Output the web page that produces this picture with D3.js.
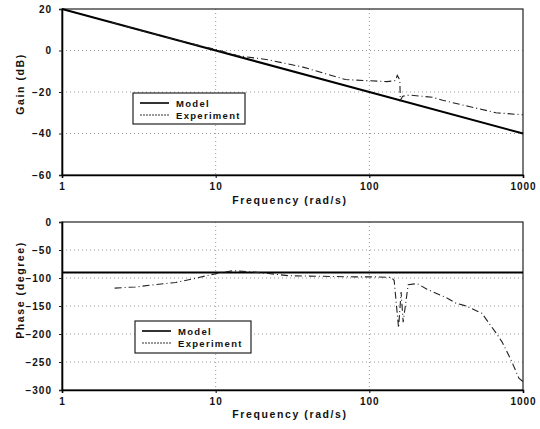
<!DOCTYPE html>
<html>
<head>
<meta charset="utf-8">
<script src="https://cdn.jsdelivr.net/npm/d3@7"></script>
<style>
  body { margin: 0; background: #fff; }
  text { font-family: "Liberation Sans", Arial, sans-serif; font-weight: bold; fill: #111; }
</style>
</head>
<body>
<svg id="chart" width="540" height="429"></svg>
<script>
// model (straight lines on log axis)
const modelFreq = [1, 10, 100, 1000];
const modelGain = [20, 0, -20, -40];
const modelPhase = [-90, -90, -90, -90];

// measured gain
const expGainFreq = [2.1, 3, 5, 8, 10, 14, 22, 37, 70, 130, 148, 152, 156, 158, 159, 165, 182, 257, 300, 446, 667, 1000];
const expGain = [13.6, 10.3, 6, 2.2, 0.5, -2.5, -4.5, -8, -14, -15, -14.5, -12, -13.5, -15, -24, -22, -21.5, -22.5, -24, -27, -30, -31];

// measured phase
const expPhaseFreq = [2.2, 3, 4, 5.5, 7, 9, 11, 13, 17, 22, 30, 50, 80, 110, 139, 145, 155, 161, 166, 179, 205, 237, 322, 367, 426, 540, 667, 730, 835, 940, 1000];
const expPhase = [-118, -116, -112, -108, -102, -95, -90, -87, -89, -92, -96, -97, -98, -98, -99, -104, -189, -125, -179, -112, -110, -120, -136, -145, -150, -163, -198, -214, -246, -279, -285];

const freqTicks = [1, 10, 100, 1000];
const gainTicks = [20, 0, -20, -40, -60];
const phaseTicks = [0, -50, -100, -150, -200, -250, -300];

const svg = d3.select("#chart");
const x = d3.scaleLog().domain([1, 1000]).range([62, 523]);

function panel(top, bottom, yDomain, yTicks, yTitle, titleY, fy, yVals, legendPos, xTitleY) {
  const y = d3.scaleLinear().domain(yDomain).range([bottom, top]);
  const g = svg.append("g");

  // grid
  g.selectAll(".hg").data(yTicks.slice(1, -1)).enter().append("line")
    .attr("x1", x(1)).attr("x2", x(1000))
    .attr("y1", d => y(d)).attr("y2", d => y(d))
    .attr("stroke", "#999").attr("stroke-width", 1).attr("stroke-dasharray", "1,3");
  g.selectAll(".vg").data([10, 100]).enter().append("line")
    .attr("x1", d => x(d)).attr("x2", d => x(d))
    .attr("y1", top).attr("y2", bottom)
    .attr("stroke", "#999").attr("stroke-width", 1).attr("stroke-dasharray", "1,3");

  // frame
  g.append("rect").attr("x", x(1)).attr("y", top)
    .attr("width", x(1000) - x(1)).attr("height", bottom - top)
    .attr("fill", "none").attr("stroke", "#222").attr("stroke-width", 1.2);

  const ya = d3.axisLeft(y).tickValues(yTicks).tickSize(3).tickFormat(d3.format("d"));
  g.append("g").attr("transform", `translate(${x(1)},0)`).call(ya)
    .call(a => a.select(".domain").attr("stroke-width", 1.6))
    .call(a => a.selectAll("text").attr("font-size", 10).attr("letter-spacing", 1).attr("dx", -4))
    .call(a => a.selectAll(".tick line").attr("stroke", "#222"));

  const xa = d3.axisBottom(x).tickValues(freqTicks).tickSize(3).tickFormat(d3.format("d"));
  g.append("g").attr("transform", `translate(0,${bottom})`).call(xa)
    .call(a => a.select(".domain").attr("stroke-width", 1.6))
    .call(a => a.selectAll("text").attr("font-size", 10).attr("letter-spacing", 1).attr("dy", "0.9em"));

  g.append("text").attr("x", 290).attr("y", xTitleY).attr("text-anchor", "middle")
    .attr("font-size", 10.5).attr("letter-spacing", 1.6).text("Frequency  (rad/s)");
  g.append("text").attr("transform", `translate(24,${titleY}) rotate(-90)`).attr("text-anchor", "middle")
    .attr("font-size", 10.5).attr("letter-spacing", 1.6).text(yTitle);

  // model
  g.append("path").datum(modelFreq.map((f, i) => [f, fy[i]]))
    .attr("d", d3.line().x(d => x(d[0])).y(d => y(d[1])))
    .attr("fill", "none").attr("stroke", "#000").attr("stroke-width", 2);
  // experiment
  g.append("path").datum(yVals)
    .attr("d", d3.line().x(d => x(d[0])).y(d => y(d[1])))
    .attr("fill", "none").attr("stroke", "#222").attr("stroke-width", 1.1)
    .attr("stroke-dasharray", "7,3,1,3");

  // legend
  const [lx, ly, lw, lh] = legendPos;
  const lg = g.append("g").attr("transform", `translate(${lx},${ly})`);
  lg.append("rect").attr("width", lw).attr("height", lh).attr("fill", "#fff")
    .attr("stroke", "#222").attr("stroke-width", 1.2);
  lg.append("line").attr("x1", 7).attr("x2", 36).attr("y1", 10).attr("y2", 10)
    .attr("stroke", "#000").attr("stroke-width", 1.6);
  lg.append("line").attr("x1", 7).attr("x2", 36).attr("y1", 22).attr("y2", 22)
    .attr("stroke", "#333").attr("stroke-width", 1).attr("stroke-dasharray", "2,1");
  lg.append("text").attr("x", 43).attr("y", 13.5).attr("font-size", 9.5).attr("letter-spacing", 1.3).text("Model");
  lg.append("text").attr("x", 43).attr("y", 25.5).attr("font-size", 9.5).attr("letter-spacing", 1.3).text("Experiment");
}

panel(9, 175, [-60, 20], gainTicks, "Gain  (dB)", 84, modelGain,
  expGainFreq.map((f, i) => [f, expGain[i]]), [133, 93, 112, 31], 204);
panel(222, 390, [-300, 0], phaseTicks, "Phase  (degree)", 290, modelPhase,
  expPhaseFreq.map((f, i) => [f, expPhase[i]]), [135, 321, 116, 32], 418);
</script>
</body>
</html>
